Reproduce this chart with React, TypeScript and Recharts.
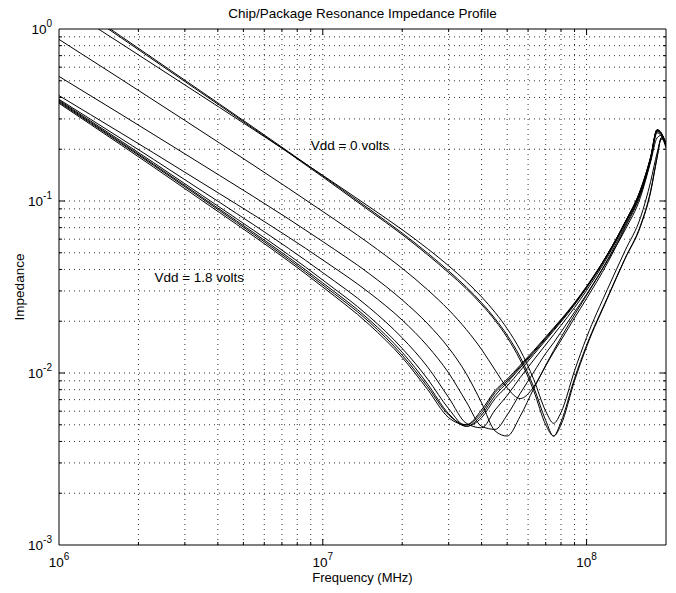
import React from 'react';
import { LineChart, Line, XAxis, YAxis, ReferenceLine, ReferenceDot, Label } from 'recharts';

// frequency points (Hz)
const freq = [1e6, 3e6, 1e7, 1.5e7, 2e7, 2.5e7, 3e7, 3.5e7, 4e7, 4.5e7, 5e7, 5.6e7, 6.3e7, 7e7, 7.5e7, 8e7, 9e7, 1e8, 1.2e8, 1.4e8, 1.6e8, 1.75e8, 1.85e8, 1.92e8, 2e8];

// impedance curves, Vdd = 0 V at the top down to Vdd = 1.8 V at the bottom
const zA1 = [1.57, 0.495, 0.138, 0.088, 0.0638, 0.0486, 0.0383, 0.0309, 0.025, 0.0202, 0.0161, 0.0119, 0.0079, 0.005, 0.0043, 0.0052, 0.0093, 0.0145, 0.0275, 0.0465, 0.072, 0.115, 0.18, 0.234, 0.215];
const zA2 = [1.6, 0.504, 0.14, 0.0898, 0.0651, 0.0497, 0.0392, 0.0316, 0.0256, 0.0207, 0.0166, 0.0124, 0.0083, 0.0053, 0.0043, 0.005, 0.009, 0.0142, 0.0272, 0.0462, 0.071, 0.113, 0.178, 0.232, 0.214];
const zB = [1.405, 0.473, 0.141, 0.0925, 0.0681, 0.0527, 0.042, 0.034, 0.0277, 0.0225, 0.0181, 0.0136, 0.0092, 0.006, 0.0051, 0.0059, 0.0103, 0.0161, 0.0307, 0.0515, 0.08, 0.13, 0.19, 0.228, 0.222];
const zC = [0.87, 0.294, 0.0869, 0.0566, 0.0406, 0.0304, 0.0233, 0.0179, 0.0137, 0.0104, 0.0082, 0.0071, 0.0083, 0.0111, 0.0135, 0.0161, 0.0218, 0.0283, 0.045, 0.068, 0.105, 0.17, 0.233, 0.241, 0.219];
const zD = [0.53, 0.188, 0.0581, 0.0378, 0.0266, 0.0193, 0.014, 0.0099, 0.0067, 0.0046, 0.0043, 0.0056, 0.0081, 0.011, 0.0132, 0.0155, 0.0209, 0.0271, 0.0436, 0.07, 0.109, 0.172, 0.249, 0.239, 0.204];
const zE = [0.41, 0.147, 0.0454, 0.0293, 0.0203, 0.0143, 0.01, 0.0068, 0.0049, 0.0047, 0.0057, 0.0076, 0.0101, 0.013, 0.015, 0.0173, 0.0226, 0.0287, 0.0455, 0.0718, 0.111, 0.175, 0.253, 0.243, 0.207];
const zF = [0.39, 0.133, 0.0383, 0.024, 0.016, 0.0108, 0.0072, 0.0051, 0.0048, 0.0061, 0.0074, 0.0094, 0.0119, 0.0146, 0.0167, 0.0189, 0.024, 0.0302, 0.0473, 0.0737, 0.113, 0.177, 0.256, 0.246, 0.209];
const zG1 = [0.37, 0.118, 0.0316, 0.0191, 0.0123, 0.008, 0.0055, 0.005, 0.0061, 0.0079, 0.0092, 0.0111, 0.0135, 0.0162, 0.0183, 0.0205, 0.0256, 0.0319, 0.0491, 0.0755, 0.116, 0.181, 0.26, 0.249, 0.212];
const zG2 = [0.375, 0.121, 0.0325, 0.0198, 0.0127, 0.0083, 0.0057, 0.005, 0.0059, 0.0077, 0.009, 0.0109, 0.0133, 0.016, 0.0181, 0.0203, 0.0254, 0.0317, 0.049, 0.0754, 0.116, 0.18, 0.259, 0.248, 0.211];
const zG3 = [0.38, 0.123, 0.0334, 0.0204, 0.0132, 0.0086, 0.0058, 0.0049, 0.0057, 0.0074, 0.0088, 0.0107, 0.0131, 0.0158, 0.0179, 0.0201, 0.0252, 0.0315, 0.0488, 0.0752, 0.115, 0.18, 0.258, 0.247, 0.21];
const zG4 = [0.385, 0.126, 0.0347, 0.0213, 0.0139, 0.0092, 0.0062, 0.0049, 0.0055, 0.0071, 0.0084, 0.0103, 0.0128, 0.0155, 0.0176, 0.0198, 0.0249, 0.0312, 0.0484, 0.0748, 0.114, 0.179, 0.258, 0.247, 0.211];

const curves: [string, number[]][] = [
  ['zA1', zA1], ['zA2', zA2], ['zB', zB], ['zC', zC], ['zD', zD], ['zE', zE],
  ['zF', zF], ['zG1', zG1], ['zG2', zG2], ['zG3', zG3], ['zG4', zG4],
];

// axes
const xTicks = [1e6, 1e7, 1e8];
const yTicks = [1e-3, 1e-2, 1e-1, 1];
const xGrid = [2e6, 3e6, 4e6, 5e6, 6e6, 7e6, 8e6, 9e6, 1e7, 2e7, 3e7, 4e7, 5e7, 6e7, 7e7, 8e7, 9e7, 1e8];
const yGrid = [
  2e-3, 3e-3, 4e-3, 5e-3, 6e-3, 7e-3, 8e-3, 9e-3, 1e-2,
  2e-2, 3e-2, 4e-2, 5e-2, 6e-2, 7e-2, 8e-2, 9e-2, 1e-1,
  2e-1, 3e-1, 4e-1, 5e-1, 6e-1, 7e-1, 8e-1, 9e-1,
];

const rows = freq.map((hz, i) => {
  const r: Record<string, number> = { hz };
  curves.forEach(([k, arr]) => { r[k] = arr[i]; });
  return r;
});

const FONT = '"Liberation Sans", Arial, Helvetica, sans-serif';
const isMajor = (v: number) => Math.abs(Math.log10(v) - Math.round(Math.log10(v))) < 1e-6;

function XTick(props: any) {
  const { x, y, payload } = props;
  const e = Math.round(Math.log10(payload.value));
  return (
    <text x={x} y={y + 22} textAnchor="middle" fontSize={13.5} fill="#000" fontFamily={FONT}>
      10<tspan dy={-7} fontSize={10}>{e}</tspan>
    </text>
  );
}

function YTick(props: any) {
  const { x, y, payload } = props;
  const e = Math.round(Math.log10(payload.value));
  return (
    <text x={x - 7} y={y + 5} textAnchor="end" fontSize={13.5} fill="#000" fontFamily={FONT}>
      10<tspan dy={-7} fontSize={10}>{e}</tspan>
    </text>
  );
}

export default function App() {
  const gridStyle = { stroke: '#333', strokeDasharray: '1 4', strokeWidth: 1 };
  return (
    <div style={{ position: 'absolute', left: 0, top: 0, width: 676, height: 593, background: '#fff', fontFamily: FONT }}>
      <div style={{ position: 'absolute', left: 59, width: 607, top: 6, textAlign: 'center', fontSize: 13.5, lineHeight: '16px', color: '#000' }}>
        Chip/Package Resonance Impedance Profile
      </div>
      <LineChart width={676} height={593} data={rows} margin={{ top: 29, right: 10, bottom: 0, left: 0 }}>
        <XAxis
          dataKey="hz" type="number" scale="log" domain={[1e6, 2e8]} allowDataOverflow
          ticks={xTicks} interval={0} height={48} tickSize={0} tickMargin={0}
          tick={<XTick />} tickLine={false} axisLine={{ stroke: '#000' }}
        >
          <Label value="Frequency (MHz)" position="insideBottom" offset={11} style={{ fontSize: 13, fill: '#000' }} />
        </XAxis>
        <YAxis
          type="number" scale="log" domain={[1e-3, 1]} allowDataOverflow
          ticks={yTicks} interval={0} width={59} tickSize={0} tickMargin={0}
          tick={<YTick />} tickLine={false} axisLine={{ stroke: '#000' }}
        >
          <Label value="Impedance" angle={-90} position="insideLeft" offset={19} style={{ fontSize: 13.5, fill: '#000', textAnchor: 'middle' }} />
        </YAxis>

        {xGrid.map((v) => <ReferenceLine key={'gx' + v} x={v} {...gridStyle} />)}
        {yGrid.map((v) => <ReferenceLine key={'gy' + v} y={v} {...gridStyle} />)}

        {xGrid.map((v) => {
          const m = isMajor(v) ? 1.084 : 1.041;
          return [
            <ReferenceLine key={'tb' + v} segment={[{ x: v, y: 1e-3 }, { x: v, y: 1e-3 * m }]} stroke="#000" />,
            <ReferenceLine key={'tt' + v} segment={[{ x: v, y: 1 }, { x: v, y: 1 / m }]} stroke="#000" />,
          ];
        })}
        {yGrid.map((v) => {
          const m = isMajor(v) ? 1.054 : 1.027;
          return [
            <ReferenceLine key={'tl' + v} segment={[{ x: 1e6, y: v }, { x: 1e6 * m, y: v }]} stroke="#000" />,
            <ReferenceLine key={'tr' + v} segment={[{ x: 2e8, y: v }, { x: 2e8 / m, y: v }]} stroke="#000" />,
          ];
        })}
        <ReferenceLine x={2e8} stroke="#000" />
        <ReferenceLine y={1} stroke="#000" />

        {curves.map(([k]) => (
          <Line key={k} dataKey={k} type="monotone" stroke="#000" strokeWidth={1} dot={false} isAnimationActive={false} />
        ))}

        <ReferenceDot x={9e6} y={0.21} r={0} fill="none" stroke="none">
          <Label value="Vdd = 0 volts" position="right" offset={0} style={{ fontSize: 13.5, fill: '#000' }} />
        </ReferenceDot>
        <ReferenceDot x={2.3e6} y={0.036} r={0} fill="none" stroke="none">
          <Label value="Vdd = 1.8 volts" position="right" offset={0} style={{ fontSize: 13.5, fill: '#000' }} />
        </ReferenceDot>
      </LineChart>
    </div>
  );
}
